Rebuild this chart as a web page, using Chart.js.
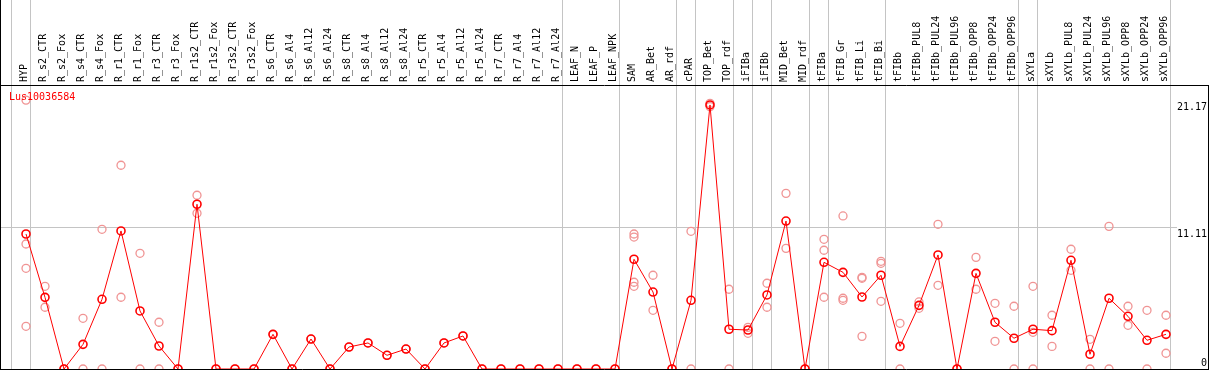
<!DOCTYPE html>
<html>
<head>
<meta charset="utf-8">
<script src="https://cdn.jsdelivr.net/npm/chart.js@4/dist/chart.umd.min.js"></script>
<style>
    html, body { margin: 0; padding: 0; background: #fff; }
    #wrap { width: 1209px; height: 370px; }
</style>
</head>
<body>
<div id="wrap"><canvas id="exprChart" width="1209" height="370"></canvas></div>
<script>
// ---- data ----
const geneName = 'Lus10036584';

const categories = [
    'HYP', 'R_s2_CTR', 'R_s2_Fox', 'R_s4_CTR', 'R_s4_Fox', 'R_r1_CTR', 'R_r1_Fox', 'R_r3_CTR', 'R_r3_Fox',
    'R_r1s2_CTR', 'R_r1s2_Fox', 'R_r3s2_CTR', 'R_r3s2_Fox', 'R_s6_CTR', 'R_s6_Al4', 'R_s6_Al12', 'R_s6_Al24',
    'R_s8_CTR', 'R_s8_Al4', 'R_s8_Al12', 'R_s8_Al24', 'R_r5_CTR', 'R_r5_Al4', 'R_r5_Al12', 'R_r5_Al24',
    'R_r7_CTR', 'R_r7_Al4', 'R_r7_Al12', 'R_r7_Al24', 'LEAF_N', 'LEAF_P', 'LEAF_NPK', 'SAM', 'AR_Bet', 'AR_rdf',
    'cPAR', 'TOP_Bet', 'TOP_rdf', 'iFIBa', 'iFIBb', 'MID_Bet', 'MID_rdf', 'tFIBa', 'tFIB_Gr', 'tFIB_Li', 'tFIB_Bi',
    'tFIBb', 'tFIBb_PUL8', 'tFIBb_PUL24', 'tFIBb_PUL96', 'tFIBb_OPP8', 'tFIBb_OPP24', 'tFIBb_OPP96',
    'sXYLa', 'sXYLb', 'sXYLb_PUL8', 'sXYLb_PUL24', 'sXYLb_PUL96', 'sXYLb_OPP8', 'sXYLb_OPP24', 'sXYLb_OPP96'
];

const meanValues = [
    10.63, 5.64, 0, 1.94, 5.49, 10.87, 4.57, 1.81, 0,
    12.97, 0, 0, 0, 2.73, 0, 2.36, 0,
    1.73, 2.05, 1.08, 1.57, 0, 2.05, 2.60, 0,
    0, 0, 0, 0, 0, 0, 0, 8.64, 6.06, 0,
    5.41, 20.79, 3.13, 3.07, 5.83, 11.65, 0, 8.40, 7.61, 5.67, 7.38,
    1.78, 5.01, 8.98, 0, 7.53, 3.68, 2.42,
    3.13, 3.02, 8.56, 1.16, 5.57, 4.15, 2.26, 2.73
];

const replicateValues = [
    [21.17, 9.84, 7.93, 3.36], [6.51, 4.86], [0], [3.99, 0], [11.0, 0], [16.04, 5.65], [9.11, 0], [3.68, 0], [0],
    [13.68, 12.26], [0], [0], [0], [2.73], [0], [2.36], [0],
    [1.73], [2.05], [1.08], [1.57], [0], [2.05], [2.60], [0],
    [0], [0], [0], [0], [0], [0], [0], [10.63, 10.39, 6.83, 6.51], [7.38, 4.62], [0],
    [10.84, 0], [20.92, 20.66], [6.28, 0], [3.28, 2.81], [6.75, 4.86], [13.83, 9.50], [0], [10.21, 9.35, 5.65],
    [12.05, 5.57, 5.41], [7.22, 7.14, 2.57], [8.48, 8.32, 5.33],
    [3.60, 0], [5.28, 4.78], [11.39, 6.59], [0], [8.79, 6.28], [5.17, 2.18], [4.94, 0],
    [6.51, 2.89, 0], [4.23, 1.78], [9.43, 7.77], [2.34, 0], [11.23, 0], [4.94, 3.44], [4.62, 0], [4.23, 1.24]
];

// separators sit just after these sample numbers (0 = before the first one)
const groupEnds = [0, 1, 29, 32, 35, 36, 38, 39, 40, 42, 43, 46, 53, 54, 61];

const yTickValues = [0, 11.11, 21.17];

// ---- chart ----
const FONT = 'DejaVu Sans Mono';
const RED = '#ff0000';
const PINK = '#f09494';
const GRID = '#c4c4c4';

const meanPoints = meanValues.map((v, i) => ({ x: i + 1, y: v }));
const repPoints = [];
replicateValues.forEach((reps, i) => {
    reps.forEach(v => repPoints.push({ x: i + 1, y: v }));
});

const xMin = -0.316;
const xMax = 61.579;

// no extra label padding, the plot area has to sit exactly
function noPad(scale) {
    scale.paddingLeft = 0;
    scale.paddingRight = 0;
    scale.paddingTop = 0;
    scale.paddingBottom = 0;
}

const overlay = {
    id: 'overlay',
    afterDraw(chart) {
        const ctx = chart.ctx;
        const y = chart.scales.y;
        ctx.save();

        // frame
        ctx.strokeStyle = '#000';
        ctx.lineWidth = 1;
        ctx.beginPath();
        ctx.moveTo(0, 85.5); ctx.lineTo(1209, 85.5);
        ctx.moveTo(0, 369.5); ctx.lineTo(1209, 369.5);
        ctx.moveTo(0.5, 0); ctx.lineTo(0.5, 370);
        ctx.moveTo(1208.5, 85); ctx.lineTo(1208.5, 370);
        ctx.stroke();

        // value labels on the right
        ctx.font = '10px "' + FONT + '"';
        ctx.fillStyle = '#000';
        ctx.textAlign = 'right';
        yTickValues.forEach(v => {
            const py = y.getPixelForValue(v);
            if (v === 0) {
                ctx.textBaseline = 'bottom';
                ctx.fillText(String(v), 1207, py - 1);
            } else {
                ctx.textBaseline = 'top';
                ctx.fillText(v.toFixed(2), 1207, py + 2);
            }
        });

        // gene name
        ctx.fillStyle = RED;
        ctx.textAlign = 'left';
        ctx.textBaseline = 'middle';
        ctx.fillText(geneName, 9, 97);
        ctx.restore();
    }
};

new Chart(document.getElementById('exprChart'), {
    type: 'line',
    data: {
        datasets: [
            {
                label: 'replicates',
                type: 'scatter',
                data: repPoints,
                xAxisID: 'x',
                yAxisID: 'y',
                showLine: false,
                pointStyle: 'circle',
                pointRadius: 4,
                pointBorderWidth: 1.3,
                pointBorderColor: PINK,
                pointBackgroundColor: 'rgba(0,0,0,0)',
                order: 2
            },
            {
                label: 'mean',
                data: meanPoints,
                xAxisID: 'x',
                yAxisID: 'y',
                borderColor: RED,
                borderWidth: 1,
                pointStyle: 'circle',
                pointRadius: 4,
                pointBorderWidth: 1.6,
                pointBorderColor: RED,
                pointBackgroundColor: 'rgba(0,0,0,0)',
                tension: 0,
                order: 1
            }
        ]
    },
    options: {
        responsive: false,
        animation: false,
        devicePixelRatio: 1,
        clip: false,
        layout: { autoPadding: false, padding: { left: 1, right: 1, top: 0, bottom: 1 } },
        plugins: {
            legend: { display: false },
            tooltip: { enabled: false }
        },
        scales: {
            x: {
                type: 'linear',
                position: 'top',
                weight: 1,
                min: xMin,
                max: xMax,
                afterBuildTicks: scale => {
                    scale.ticks = categories.map((c, i) => ({ value: i + 1 }));
                },
                afterFit: scale => { scale.height = 85; noPad(scale); },
                ticks: {
                    autoSkip: false,
                    minRotation: 90,
                    maxRotation: 90,
                    padding: 3,
                    labelOffset: 10,
                    color: '#000',
                    font: { family: FONT, size: 10 },
                    callback: value => categories[value - 1]
                },
                grid: { display: false, drawTicks: false },
                border: { display: false }
            },
            xg: {
                type: 'linear',
                position: 'top',
                weight: 0,
                min: xMin,
                max: xMax,
                afterBuildTicks: scale => {
                    scale.ticks = groupEnds.map(n => ({ value: n + 0.22 }));
                },
                afterFit: scale => { scale.height = 0; noPad(scale); },
                ticks: { display: false },
                grid: {
                    color: GRID,
                    lineWidth: 1,
                    drawTicks: true,
                    tickLength: 85
                },
                border: { display: false }
            },
            y: {
                type: 'linear',
                position: 'right',
                min: 0,
                max: 22.36,
                afterBuildTicks: scale => {
                    scale.ticks = yTickValues.map(v => ({ value: v }));
                },
                afterFit: scale => { scale.width = 31; noPad(scale); },
                ticks: { display: false },
                grid: {
                    drawTicks: false,
                    color: ctx => (ctx.tick && ctx.tick.value === 11.11 ? GRID : 'rgba(0,0,0,0)')
                },
                border: { display: false }
            }
        }
    },
    plugins: [overlay]
});
</script>
</body>
</html>
